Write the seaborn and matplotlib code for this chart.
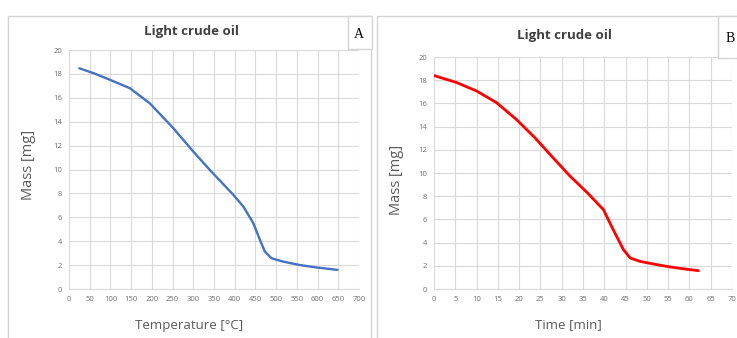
import matplotlib
matplotlib.use("Agg")
import matplotlib.pyplot as plt
import seaborn as sns
import pandas as pd
from matplotlib.patches import Rectangle

# Panel A: mass vs temperature
temp_c = [25, 60, 100, 147, 195, 252, 300, 340, 397, 421, 445, 461, 473, 489, 517, 558, 598, 648]
mass_a = [18.47, 18.05, 17.49, 16.8, 15.54, 13.45, 11.5, 9.96, 7.87, 6.89, 5.5, 4.1, 3.12, 2.57, 2.29, 2.0, 1.8, 1.6]

# Panel B: mass vs time
time_min = [0, 5.3, 10, 14.7, 19.4, 23.7, 28, 31.9, 36, 39.8, 42.1, 44.5, 46.1, 48.4, 52, 55.5, 59, 62.1]
mass_b = [18.4, 17.8, 17.07, 16.06, 14.6, 13.04, 11.3, 9.75, 8.3, 6.84, 5.11, 3.39, 2.67, 2.38, 2.12, 1.9, 1.72, 1.58]

W, H = 737, 338
sns.set_style("white")
plt.rcParams["font.family"] = ["Open Sans", "DejaVu Sans"]

fig = plt.figure(figsize=(W / 100, H / 100), dpi=100)

def fx(px):
    return px / W

def fy(py):
    return 1 - py / H

title_col = "#404040"
text_col = "#595959"
tick_col = "#6e6e6e"
grid_col = "#d9d9d9"
frame_col = "#d4d4d4"

# panel frames and letter boxes
for x0, x1 in [(8, 371), (377, 745)]:
    fig.patches.append(Rectangle((fx(x0), fy(345)), fx(x1 - x0), (345 - 16) / H,
                                 transform=fig.transFigure, fill=False,
                                 edgecolor=frame_col, linewidth=1.0))
for x0, x1, y1, letter in [(348, 372, 49, "A"), (718, 745, 58, "B")]:
    fig.patches.append(Rectangle((fx(x0), fy(y1)), fx(x1 - x0), (y1 - 16) / H,
                                 transform=fig.transFigure, facecolor="white",
                                 edgecolor=frame_col, linewidth=1.0, zorder=5))
    fig.text(fx((x0 + x1) / 2 - 1), fy((16 + y1) / 2 + 2), letter,
             family="Liberation Serif", fontsize=10, color="black",
             ha="center", va="center", zorder=6)

panels = [
    dict(rect=(69, 359, 50, 289), x=temp_c, y=mass_a, color="#4472C4", lw=1.7,
         xmax=700, xstep=50, xlabel="Temperature [°C]",
         title_pos=(191, 31), ylab_pos=(28, 165), xlab_pos=(189, 325)),
    dict(rect=(434, 732, 57, 289), x=time_min, y=mass_b, color="#FF0000", lw=2.0,
         xmax=70, xstep=5, xlabel="Time [min]",
         title_pos=(564, 35), ylab_pos=(397, 180), xlab_pos=(568, 325)),
]

for p in panels:
    l, r, t, b = p["rect"]
    ax = fig.add_axes([fx(l), fy(b), fx(r - l), (b - t) / H])
    df = pd.DataFrame({"x": p["x"], "y": p["y"]})
    sns.lineplot(data=df, x="x", y="y", ax=ax, color=p["color"], linewidth=p["lw"],
                 solid_joinstyle="round", solid_capstyle="round", zorder=3)
    ax.set_xlim(0, p["xmax"])
    ax.set_ylim(0, 20)
    ax.set_xticks(range(0, p["xmax"] + 1, p["xstep"]))
    ax.set_yticks(range(0, 21, 2))
    ax.grid(True, color=grid_col, linewidth=0.8)
    for s in ["top", "right", "left"]:
        ax.spines[s].set_visible(False)
    ax.spines["bottom"].set_color(grid_col)
    ax.tick_params(length=0, labelsize=5.5, labelcolor=tick_col, pad=5)
    ax.set_xlabel("")
    ax.set_ylabel("")
    fig.text(fx(p["title_pos"][0]), fy(p["title_pos"][1]), "Light crude oil",
             fontsize=9.5, fontweight="bold", color=title_col, ha="center", va="center")
    fig.text(fx(p["ylab_pos"][0]), fy(p["ylab_pos"][1]), "Mass [mg]",
             fontsize=10.5, color=text_col, rotation=90, ha="center", va="center")
    fig.text(fx(p["xlab_pos"][0]), fy(p["xlab_pos"][1]), p["xlabel"],
             fontsize=9.5, color=text_col, ha="center", va="center")

fig.savefig("out.png", dpi=100)
